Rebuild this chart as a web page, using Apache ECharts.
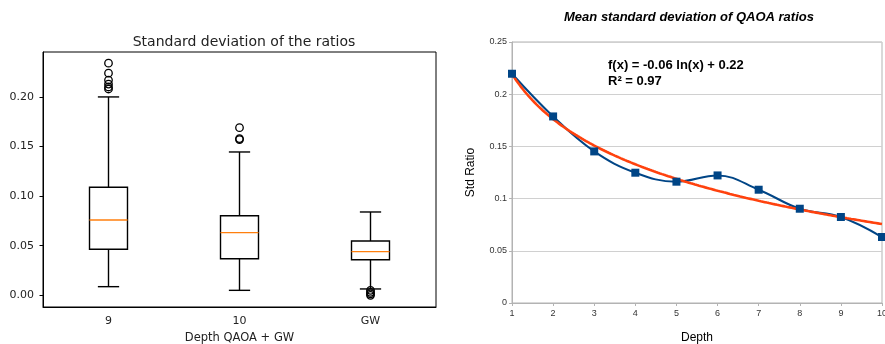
<!DOCTYPE html>
<html>
<head>
<meta charset="utf-8">
<script src="https://cdn.jsdelivr.net/npm/echarts@6/dist/echarts.min.js"></script>
<style>html,body{margin:0;padding:0;background:#fff;}#c{width:885px;height:344px;}</style>
</head>
<body>
<div id="c"></div>
<script>
// ---- Left chart: box plots ----
const categories = ['9', '10', 'GW'];
const boxLow    = [0.0087, 0.0050, 0.0064];
const boxQ1     = [0.0464, 0.0369, 0.0359];
const boxMedian = [0.0759, 0.0631, 0.0440];
const boxQ3     = [0.1089, 0.0802, 0.0547];
const boxHigh   = [0.2000, 0.1445, 0.0840];
const outliers9  = [0.234, 0.224, 0.217, 0.213, 0.210, 0.208];
const outliers10 = [0.169, 0.158, 0.157];
const outliersGW = [0.005, 0.003, 0.0015, 0.000];
const leftTicks = [0, 0.05, 0.10, 0.15, 0.20];

// ---- Right chart: mean std vs depth ----
const depth   = [1, 2, 3, 4, 5, 6, 7, 8, 9, 10];
const meanStd = [0.2196, 0.1787, 0.1452, 0.1248, 0.1162, 0.1222, 0.1085, 0.0903, 0.0824, 0.0632];

// logarithmic least-squares trend from the data
const lnx = depth.map(Math.log);
const mx = lnx.reduce((a, b) => a + b, 0) / lnx.length;
const my = meanStd.reduce((a, b) => a + b, 0) / meanStd.length;
let sxy = 0, sxx = 0;
for (let i = 0; i < lnx.length; i++) { sxy += (lnx[i] - mx) * (meanStd[i] - my); sxx += (lnx[i] - mx) ** 2; }
const slope = sxy / sxx, intercept = my - slope * mx;
const trend = [];
for (let k = 0; k <= 180; k++) { const x = 1 + k * 0.05; trend.push([x, intercept + slope * Math.log(x)]); }

const boxData = categories.map((c, i) => [i, boxLow[i], boxQ1[i], boxMedian[i], boxQ3[i], boxHigh[i]]);
const outlierData = [];
[outliers9, outliers10, outliersGW].forEach((arr, i) => arr.forEach(v => outlierData.push([i, v])));

const chart = echarts.init(document.getElementById('c'));
const dj = 'DejaVu Sans';
const lib = 'Liberation Sans';
chart.setOption({
  animation: false,
  title: [
    { text: 'Standard deviation of the ratios', left: 239, top: 30, textAlign: 'center',
      textStyle: { fontFamily: dj, fontSize: 14, fontWeight: 'normal', color: '#222' } },
    { text: 'Mean standard deviation of QAOA ratios', left: 684, top: 6, textAlign: 'center',
      textStyle: { fontFamily: lib, fontSize: 13, fontWeight: 'bold', fontStyle: 'italic', color: '#000' } }
  ],
  grid: [
    { left: 43, right: 449, top: 52, bottom: 37, outerBoundsMode: 'none', containLabel: false,
      show: true, borderColor: '#000', borderWidth: 1, backgroundColor: 'transparent' },
    { left: 512, right: 3, top: 42, bottom: 41, outerBoundsMode: 'none', containLabel: false,
      show: true, borderColor: '#b3b3b3', borderWidth: 1 }
  ],
  xAxis: [
    { type: 'category', gridIndex: 0, data: categories, boundaryGap: true,
      name: 'Depth QAOA + GW', nameLocation: 'middle', nameGap: 25,
      nameTextStyle: { fontFamily: dj, fontSize: 11.5, color: '#222' },
      axisLine: { onZero: false, lineStyle: { color: '#000', width: 1 } },
      axisTick: { alignWithLabel: true, length: 3.5, lineStyle: { color: '#000' } },
      axisLabel: { fontFamily: dj, fontSize: 11, color: '#222', margin: 8.5 },
      splitLine: { show: false } },
    { type: 'value', gridIndex: 1, min: 1, max: 10, interval: 1,
      name: 'Depth', nameLocation: 'middle', nameGap: 29,
      nameTextStyle: { fontFamily: lib, fontSize: 12, color: '#000' },
      axisLine: { onZero: false, lineStyle: { color: '#b3b3b3' } },
      axisTick: { show: true, length: 3, lineStyle: { color: '#b3b3b3' } },
      axisLabel: { fontFamily: lib, fontSize: 9, color: '#333', margin: 6 },
      splitLine: { show: false } }
  ],
  yAxis: [
    { type: 'value', gridIndex: 0, min: -0.0118, max: 0.2453,
      axisLine: { show: true, onZero: false, lineStyle: { color: '#000', width: 1 } },
      axisTick: { show: true, length: 3.5, customValues: leftTicks, lineStyle: { color: '#000' } },
      axisLabel: { fontFamily: dj, fontSize: 11, color: '#222', margin: 9, customValues: leftTicks,
        formatter: v => v.toFixed(2) },
      splitLine: { show: false } },
    { type: 'value', gridIndex: 1, min: 0, max: 0.25, interval: 0.05,
      name: 'Std Ratio', nameLocation: 'middle', nameGap: 35,
      nameTextStyle: { fontFamily: lib, fontSize: 12, color: '#000' },
      axisLine: { show: true, onZero: false, lineStyle: { color: '#b3b3b3' } },
      axisTick: { show: true, length: 3, lineStyle: { color: '#b3b3b3' } },
      axisLabel: { fontFamily: lib, fontSize: 9, color: '#333', margin: 5 },
      splitLine: { show: true, lineStyle: { color: '#d0d0d0', width: 1 } } }
  ],
  graphic: [
    { type: 'text', left: 608, top: 57, z: 100,
      style: { text: 'f(x) = -0.06 ln(x) + 0.22\nR² = 0.97', fontFamily: lib, fontSize: 13, fontWeight: 'bold',
        lineHeight: 16, fill: '#000' } }
  ],
  series: [
    { type: 'custom', xAxisIndex: 0, yAxisIndex: 0, data: boxData, z: 2,
      encode: { x: 0, y: [1, 2, 3, 4, 5] },
      renderItem: function (params, api) {
        const i = api.value(0);
        const pLow = api.coord([i, api.value(1)]);
        const pQ1 = api.coord([i, api.value(2)]);
        const pMed = api.coord([i, api.value(3)]);
        const pQ3 = api.coord([i, api.value(4)]);
        const pHigh = api.coord([i, api.value(5)]);
        const bw = api.size([1, 0])[0] * 0.29;
        const cw = bw * 0.56;
        const x = pLow[0];
        const ls = { stroke: '#000', lineWidth: 1.4, fill: null };
        return { type: 'group', children: [
          { type: 'line', shape: { x1: x, y1: pLow[1], x2: x, y2: pQ1[1] }, style: ls },
          { type: 'line', shape: { x1: x, y1: pQ3[1], x2: x, y2: pHigh[1] }, style: ls },
          { type: 'line', shape: { x1: x - cw / 2, y1: pLow[1], x2: x + cw / 2, y2: pLow[1] }, style: ls },
          { type: 'line', shape: { x1: x - cw / 2, y1: pHigh[1], x2: x + cw / 2, y2: pHigh[1] }, style: ls },
          { type: 'rect', shape: { x: x - bw / 2, y: pQ3[1], width: bw, height: pQ1[1] - pQ3[1] }, style: ls },
          { type: 'line', shape: { x1: x - bw / 2, y1: pMed[1], x2: x + bw / 2, y2: pMed[1] },
            style: { stroke: '#ff7f0e', lineWidth: 1.3 } }
        ] };
      } },
    { type: 'scatter', xAxisIndex: 0, yAxisIndex: 0, data: outlierData, symbol: 'circle', symbolSize: 7.5, z: 3,
      itemStyle: { color: 'transparent', borderColor: '#000', borderWidth: 1.3, opacity: 1 } },
    { type: 'line', xAxisIndex: 1, yAxisIndex: 1, data: depth.map((d, i) => [d, meanStd[i]]),
      smooth: 0.4, showSymbol: false, z: 2, lineStyle: { color: '#004586', width: 2 } },
    { type: 'line', xAxisIndex: 1, yAxisIndex: 1, data: trend, showSymbol: false, z: 3,
      lineStyle: { color: '#ff420e', width: 2.6 } },
    { type: 'scatter', xAxisIndex: 1, yAxisIndex: 1, data: depth.map((d, i) => [d, meanStd[i]]),
      symbol: 'rect', symbolSize: 8, z: 4, itemStyle: { color: '#004586', opacity: 1 } }
  ]
});
</script>
</body>
</html>
